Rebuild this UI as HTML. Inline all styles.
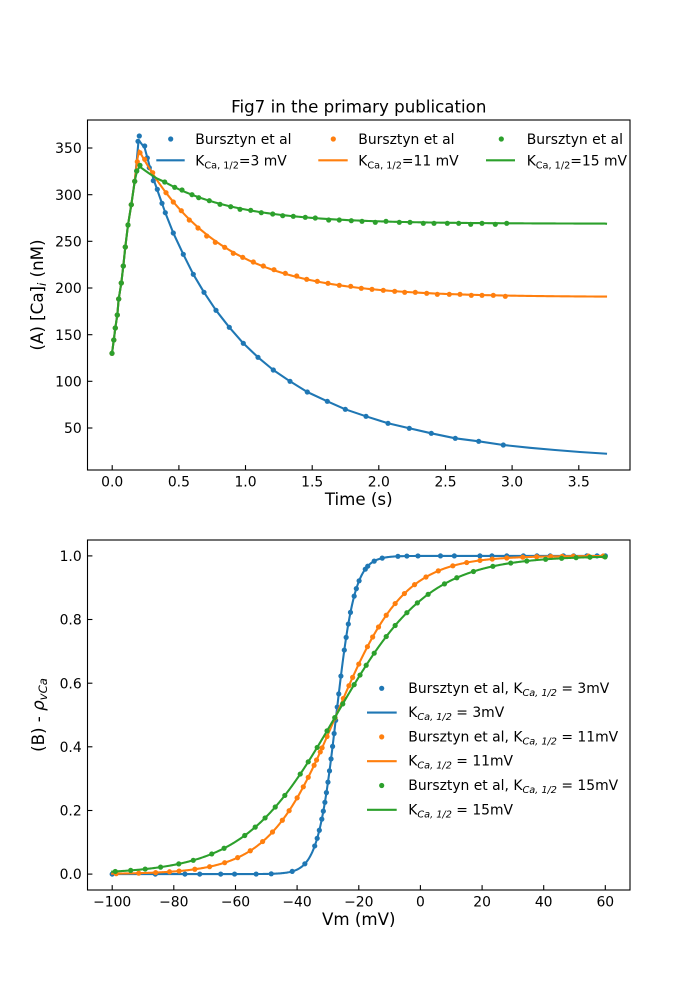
<!DOCTYPE html>
<html>
<head>
<meta charset="utf-8">
<style>
  html,body{margin:0;padding:0;background:#fff;}
  svg{display:block;}
  text{font-family:"DejaVu Sans","Liberation Sans",sans-serif;fill:#000;}
</style>
</head>
<body>
<svg id="fig" width="700" height="1000" viewBox="0 0 700 1000" xmlns="http://www.w3.org/2000/svg">
  <rect x="0" y="0" width="700" height="1000" fill="#fff"/>
  <defs>
    <clipPath id="clipA"><rect x="87.5" y="120" width="542.5" height="350"/></clipPath>
    <clipPath id="clipB"><rect x="87.5" y="540" width="542.5" height="350"/></clipPath>
  </defs>

  <!-- ============ TOP AXES ============ -->
  <text x="358.75" y="112.5" font-size="16.67" text-anchor="middle">Fig7 in the primary publication</text>

  <g id="dataA" clip-path="url(#clipA)"></g>

  <rect x="87.5" y="120" width="542.5" height="350" fill="none" stroke="#000" stroke-width="1.1"/>

  <!-- x ticks top -->
  <g stroke="#000" stroke-width="1.1">
    <line x1="112.2" y1="470" x2="112.2" y2="465.1"/>
    <line x1="178.9" y1="470" x2="178.9" y2="465.1"/>
    <line x1="245.5" y1="470" x2="245.5" y2="465.1"/>
    <line x1="312.2" y1="470" x2="312.2" y2="465.1"/>
    <line x1="378.8" y1="470" x2="378.8" y2="465.1"/>
    <line x1="445.5" y1="470" x2="445.5" y2="465.1"/>
    <line x1="512.1" y1="470" x2="512.1" y2="465.1"/>
    <line x1="578.8" y1="470" x2="578.8" y2="465.1"/>
    <line x1="87.5" y1="428.0" x2="92.4" y2="428.0"/>
    <line x1="87.5" y1="381.3" x2="92.4" y2="381.3"/>
    <line x1="87.5" y1="334.7" x2="92.4" y2="334.7"/>
    <line x1="87.5" y1="288.0" x2="92.4" y2="288.0"/>
    <line x1="87.5" y1="241.3" x2="92.4" y2="241.3"/>
    <line x1="87.5" y1="194.7" x2="92.4" y2="194.7"/>
    <line x1="87.5" y1="148.0" x2="92.4" y2="148.0"/>
  </g>
  <g font-size="13.9" text-anchor="middle">
    <text x="112.2" y="486.7">0.0</text>
    <text x="178.9" y="486.7">0.5</text>
    <text x="245.5" y="486.7">1.0</text>
    <text x="312.2" y="486.7">1.5</text>
    <text x="378.8" y="486.7">2.0</text>
    <text x="445.5" y="486.7">2.5</text>
    <text x="512.1" y="486.7">3.0</text>
    <text x="578.8" y="486.7">3.5</text>
  </g>
  <g font-size="13.9" text-anchor="end">
    <text x="81.7" y="433.1">50</text>
    <text x="81.7" y="386.4">100</text>
    <text x="81.7" y="339.8">150</text>
    <text x="81.7" y="293.1">200</text>
    <text x="81.7" y="246.4">250</text>
    <text x="81.7" y="199.8">300</text>
    <text x="81.7" y="153.1">350</text>
  </g>
  <text x="358.75" y="505" font-size="16.67" text-anchor="middle">Time (s)</text>
  <text transform="translate(43,295) rotate(-90)" font-size="16.67" text-anchor="middle">(A) [Ca]<tspan font-size="11.7" font-style="italic" dy="3">i</tspan><tspan dy="-3"> (nM)</tspan></text>

  <!-- top legend -->
  <circle cx="170.7" cy="139" r="2.6" fill="#1f77b4"/>
  <text x="195.3" y="143.8" font-size="13.9">Bursztyn et al</text>
  <line x1="156.3" y1="160.3" x2="184.7" y2="160.3" stroke="#1f77b4" stroke-width="2.08"/>
  <text x="195.3" y="165.5" font-size="13.9">K<tspan font-size="9.7" dy="3">Ca, 1/2</tspan><tspan dy="-3">=3 mV</tspan></text>

  <circle cx="333.3" cy="139" r="2.6" fill="#ff7f0e"/>
  <text x="358.3" y="143.8" font-size="13.9">Bursztyn et al</text>
  <line x1="318.3" y1="160.3" x2="347.7" y2="160.3" stroke="#ff7f0e" stroke-width="2.08"/>
  <text x="358.3" y="165.5" font-size="13.9">K<tspan font-size="9.7" dy="3">Ca, 1/2</tspan><tspan dy="-3">=11 mV</tspan></text>

  <circle cx="501.3" cy="139" r="2.6" fill="#2ca02c"/>
  <text x="526.7" y="143.8" font-size="13.9">Bursztyn et al</text>
  <line x1="486" y1="160.3" x2="515" y2="160.3" stroke="#2ca02c" stroke-width="2.08"/>
  <text x="526.7" y="165.5" font-size="13.9">K<tspan font-size="9.7" dy="3">Ca, 1/2</tspan><tspan dy="-3">=15 mV</tspan></text>

  <!-- ============ BOTTOM AXES ============ -->
  <g id="dataB" clip-path="url(#clipB)"></g>

  <rect x="87.5" y="540" width="542.5" height="350" fill="none" stroke="#000" stroke-width="1.1"/>

  <g stroke="#000" stroke-width="1.1">
    <line x1="112.2" y1="890" x2="112.2" y2="885.1"/>
    <line x1="173.8" y1="890" x2="173.8" y2="885.1"/>
    <line x1="235.5" y1="890" x2="235.5" y2="885.1"/>
    <line x1="297.1" y1="890" x2="297.1" y2="885.1"/>
    <line x1="358.8" y1="890" x2="358.8" y2="885.1"/>
    <line x1="420.4" y1="890" x2="420.4" y2="885.1"/>
    <line x1="482.1" y1="890" x2="482.1" y2="885.1"/>
    <line x1="543.7" y1="890" x2="543.7" y2="885.1"/>
    <line x1="605.3" y1="890" x2="605.3" y2="885.1"/>
    <line x1="87.5" y1="874.1" x2="92.4" y2="874.1"/>
    <line x1="87.5" y1="810.5" x2="92.4" y2="810.5"/>
    <line x1="87.5" y1="746.8" x2="92.4" y2="746.8"/>
    <line x1="87.5" y1="683.2" x2="92.4" y2="683.2"/>
    <line x1="87.5" y1="619.5" x2="92.4" y2="619.5"/>
    <line x1="87.5" y1="555.9" x2="92.4" y2="555.9"/>
  </g>
  <g font-size="13.9" text-anchor="middle">
    <text x="112.2" y="906.6">−100</text>
    <text x="173.8" y="906.6">−80</text>
    <text x="235.5" y="906.6">−60</text>
    <text x="297.1" y="906.6">−40</text>
    <text x="358.8" y="906.6">−20</text>
    <text x="420.4" y="906.6">0</text>
    <text x="482.1" y="906.6">20</text>
    <text x="543.7" y="906.6">40</text>
    <text x="605.3" y="906.6">60</text>
  </g>
  <g font-size="13.9" text-anchor="end">
    <text x="81.7" y="879.2">0.0</text>
    <text x="81.7" y="815.6">0.2</text>
    <text x="81.7" y="751.9">0.4</text>
    <text x="81.7" y="688.3">0.6</text>
    <text x="81.7" y="624.6">0.8</text>
    <text x="81.7" y="561.0">1.0</text>
  </g>
  <text x="358.75" y="925" font-size="16.67" text-anchor="middle">Vm (mV)</text>
  <text transform="translate(44,715) rotate(-90)" font-size="16.67" text-anchor="middle">(B) - <tspan font-style="italic">ρ</tspan><tspan font-size="11.7" font-style="italic" dy="3">vCa</tspan></text>

  <!-- bottom legend -->
  <circle cx="381.7" cy="688.3" r="2.6" fill="#1f77b4"/>
  <text x="408.3" y="692.8" font-size="13.9">Bursztyn et al, K<tspan font-size="9.7" font-style="italic" dy="3">Ca, 1/2</tspan><tspan dy="-3"> = 3mV</tspan></text>
  <line x1="367" y1="712.6" x2="396.7" y2="712.6" stroke="#1f77b4" stroke-width="2.08"/>
  <text x="408.3" y="717.1" font-size="13.9">K<tspan font-size="9.7" font-style="italic" dy="3">Ca, 1/2</tspan><tspan dy="-3"> = 3mV</tspan></text>

  <circle cx="381.7" cy="736.9" r="2.6" fill="#ff7f0e"/>
  <text x="408.3" y="741.4" font-size="13.9">Bursztyn et al, K<tspan font-size="9.7" font-style="italic" dy="3">Ca, 1/2</tspan><tspan dy="-3"> = 11mV</tspan></text>
  <line x1="367" y1="761.2" x2="396.7" y2="761.2" stroke="#ff7f0e" stroke-width="2.08"/>
  <text x="408.3" y="765.7" font-size="13.9">K<tspan font-size="9.7" font-style="italic" dy="3">Ca, 1/2</tspan><tspan dy="-3"> = 11mV</tspan></text>

  <circle cx="381.7" cy="785.5" r="2.6" fill="#2ca02c"/>
  <text x="408.3" y="790" font-size="13.9">Bursztyn et al, K<tspan font-size="9.7" font-style="italic" dy="3">Ca, 1/2</tspan><tspan dy="-3"> = 15mV</tspan></text>
  <line x1="367" y1="809.8" x2="396.7" y2="809.8" stroke="#2ca02c" stroke-width="2.08"/>
  <text x="408.3" y="814.3" font-size="13.9">K<tspan font-size="9.7" font-style="italic" dy="3">Ca, 1/2</tspan><tspan dy="-3"> = 15mV</tspan></text>
</svg>

<script>
(function(){
  var NS = "http://www.w3.org/2000/svg";
  var C = {b:"#1f77b4", o:"#ff7f0e", g:"#2ca02c"};
  function poly(parent, pts, color){
    var d = "M" + pts.map(function(p){return p[0].toFixed(2)+","+p[1].toFixed(2);}).join("L");
    var e = document.createElementNS(NS,"path");
    e.setAttribute("d", d);
    e.setAttribute("fill","none");
    e.setAttribute("stroke",color);
    e.setAttribute("stroke-width","2.08");
    e.setAttribute("stroke-linejoin","round");
    e.setAttribute("stroke-linecap","square");
    parent.appendChild(e);
  }
  function dots(parent, pts, color){
    pts.forEach(function(p){
      var c = document.createElementNS(NS,"circle");
      c.setAttribute("cx",p[0].toFixed(2));
      c.setAttribute("cy",p[1].toFixed(2));
      c.setAttribute("r","2.6");
      c.setAttribute("fill",color);
      parent.appendChild(c);
    });
  }

  /* ---------- TOP PLOT (pixel coords) ---------- */
  var A = document.getElementById("dataA");
  var rise = [[112,353.3],[113.8,340],[115.3,328],[117.3,315],[118.7,299],[121.3,283],[123.3,266],[125.3,247],[128,225],[131.3,204.7],[134.7,181.3]];
  var blueDecay = [[162,203.3],[165.3,212.7],[173.3,233],[183.3,254.3],[193.3,274.3],[204,292.3],[216,310.3],[229.3,327.3],[243.3,343.3],[258,357.3],[273.3,370],[290,381.3],[307.3,392],[327.3,401.3],[345.3,409.3],[366,416.3],[388,423.3],[409.3,428.3],[431.3,433.3],[455.3,438.3],[478.7,441.3],[503.3,445]];
  var bluePts = rise.concat([[136.7,171],[138,141.3],[139.3,136],[144.7,146],[147.3,158],[149.3,167.7],[153.3,180.7],[157.3,189.3]]).concat(blueDecay);
  var blueLine = rise.concat([[136.8,160],[138.6,140],[144.7,148],[149.3,165],[153.3,178.5],[157.3,190]]).concat(blueDecay).concat([[530,447.8],[555,450],[580,452],[606,453.7]]);

  var orangePtsTail = [[137.3,161.7],[140,152.7],[144.7,159.3],[152.7,172.7],[166,192.7],[173.3,202],[181.3,210.7],[189.3,220],[198,228],[206.7,236],[215.3,242.3],[224.7,247.3],[233.3,253.3],[242.7,257.3],[253.3,262],[263.3,266],[274,269.7],[285.3,273.3],[296.7,276],[306.7,279.3],[317.3,281.3],[328,283.3],[339.3,285.3],[350.7,286.3],[361.3,288.3],[372,289.3],[383.3,290.3],[394.7,291.3],[404.7,292.3],[415.3,292.3],[426.7,293.3],[437.3,294.3],[449.3,294.3],[460,294.3],[471.3,295.3],[482,295.3],[493.3,295.3],[505.3,296.3]];
  var orangePts = rise.concat(orangePtsTail);
  var orangeLine = rise.concat([[136.9,162]]);
  for (var x=139; x<=606; x+=2){ orangeLine.push([x, 297 - 104.3*Math.exp(-(x-166)/79.3)]); }
  orangeLine.push([606, 297 - 104.3*Math.exp(-(606-166)/79.3)]);

  var greenPtsTail = [[136.7,171],[140,165.3],[164.7,182],[174.7,187.3],[182,190],[192,194.7],[198.7,197.7],[209.3,200.7],[220,204.3],[230.7,206.7],[240,209.3],[250.7,210.3],[261.3,212.7],[272.7,214],[282.7,215.7],[293.3,216.3],[305.3,217.3],[315.3,218],[328.7,220],[339.3,220],[351.3,220.7],[362,221.3],[375.3,222.3],[386,221.3],[399.3,222.3],[410,222.3],[423.3,223.3],[434,223.3],[447.3,223.3],[458.7,223.3],[470.7,224.3],[482,223.3],[495.3,224.3],[506.7,223.3]];
  var greenPts = rise.concat(greenPtsTail);
  var greenLine = rise.concat([[137,171],[139.7,166.7],[145,170.5],[150,174],[157,178.5]]);
  for (var x2=164.7; x2<=606; x2+=2){ greenLine.push([x2, 223.7 - 41.7*Math.exp(-(x2-164.7)/74.7)]); }
  greenLine.push([606, 223.7]);

  dots(A, bluePts, C.b);   poly(A, blueLine, C.b);
  dots(A, orangePts, C.o); poly(A, orangeLine, C.o);
  dots(A, greenPts, C.g);  poly(A, greenLine, C.g);

  /* ---------- BOTTOM PLOT ---------- */
  var B = document.getElementById("dataB");
  function X(v){ return 112.2 + (v+100)*3.0824; }
  function Y(p){ return 874.09 - p*318.18; }
  var VH = -27.3;
  function bz(v,k){ return 1/(1+Math.exp(-(v-VH)/k)); }
  function curve(k){
    var a=[]; for (var v=-100; v<=60.0001; v+=0.25){ a.push([X(v), Y(bz(v,k))]); } return a;
  }
  function ptsFor(vs,k){ return vs.map(function(v){ return [X(v), Y(bz(v,k))]; }); }

  var vB = [-100,-86,-76.4,-71.6,-64.8,-60.3,-53.3,-48.4,-41.6,-37.5,-34.3,-33.5,-32.8,-32,-31.5,-31,-30.5,-30,-29.5,-29,-28.5,-28,-27.5,-27,-26.5,-25.8,-24.7,-24.1,-23.4,-22.7,-21.5,-20.8,-19.9,-17.9,-17.1,-15,-12.4,-7.3,-4.4,-0.8,6.5,11,19.3,23.2,28,33.4,37.8,42.1,46.4,49.7,54,57.3,60];
  var vO = [-98.7,-91.4,-85.9,-81.4,-78.3,-73.2,-68.4,-63.5,-59.3,-55.2,-51.2,-48,-44.8,-42.6,-40,-38,-36.4,-34.5,-33.7,-32.5,-31.9,-30.3,-27.7,-25.0,-23.2,-22.0,-20.0,-17.2,-15.5,-13.6,-11.1,-8.2,-5.2,-1.9,1.8,5.8,10.5,15,19.3,23.3,28,33.2,37.7,42.3,46,49.6,54.5,59.3];
  var vG = [-99,-94,-89.3,-84.3,-78.4,-73.7,-67.7,-63.7,-57,-53.6,-50.4,-47.1,-44,-39,-36.4,-33.5,-30.3,-27.8,-25.2,-21.5,-19.6,-17.6,-15,-11.1,-8.2,-4.4,-1,2.5,7.8,11.8,17.2,23.5,29.3,34.5,40.6,45.8,50.5,55,59.9];

  dots(B, ptsFor(vB,3), C.b);  poly(B, curve(3), C.b);
  dots(B, ptsFor(vO,11), C.o); poly(B, curve(11), C.o);
  dots(B, ptsFor(vG,15), C.g); poly(B, curve(15), C.g);
})();
</script>
</body>
</html>
